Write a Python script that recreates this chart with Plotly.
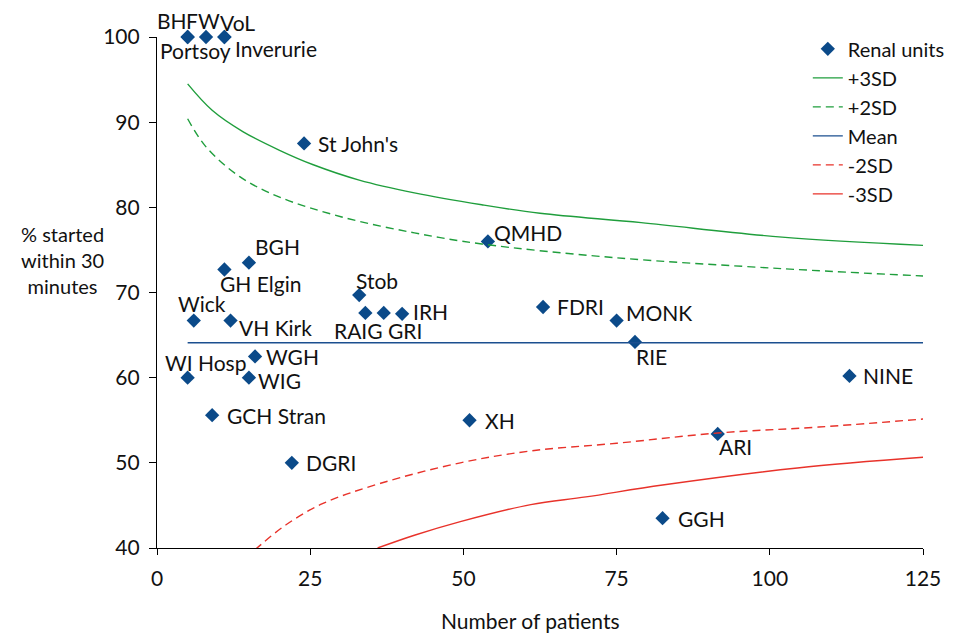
import plotly.graph_objects as go

# ---- data ----
units = ["BH", "Portsoy", "FW", "VoL", "Inverurie", "St John's", "QMHD", "BGH", "GH Elgin",
         "Stob", "RAIG", "GRI", "IRH", "Wick", "VH Kirk", "FDRI", "MONK", "RIE", "WGH",
         "WI Hosp", "WIG", "NINE", "GCH Stran", "XH", "DGRI", "ARI", "GGH"]
n_patients = [5, 5, 8, 11, 11, 24, 54, 15, 11,
              33, 34, 37, 40, 6, 12, 63, 75, 78, 16,
              5, 15, 113, 9, 51, 22, 91.5, 82.5]
pct_started = [100, 100, 100, 100, 100, 87.5, 76.0, 73.5, 72.7,
               69.7, 67.6, 67.6, 67.5, 66.7, 66.7, 68.3, 66.7, 64.2, 62.5,
               60.0, 60.0, 60.2, 55.6, 55.0, 50.0, 53.4, 43.5]

mean_x = [5, 126]
mean_pct = 64.1

plus3_x = [5, 9, 14, 20, 25.5, 33, 42, 53, 62.5, 79, 102, 126]
plus3_y = [94.5, 91.4, 88.9, 86.7, 85.0, 83.2, 81.7, 80.3, 79.3, 78.2, 76.5, 75.5]

plus2_x = [5, 8, 13.5, 20, 30, 42, 53, 74.5, 102, 126]
plus2_y = [90.4, 87.1, 83.6, 81.2, 78.9, 77.0, 75.7, 74.1, 72.8, 71.9]

minus2_x = [16, 21, 27, 36.5, 49.5, 61, 75, 91.5, 108, 126]
minus2_y = [39.8, 42.7, 45.2, 47.6, 50.0, 51.4, 52.3, 53.5, 54.2, 55.2]

minus3_x = [36, 42, 49.5, 61, 70, 82.5, 104.5, 126]
minus3_y = [40.0, 41.5, 43.1, 45.1, 46.0, 47.4, 49.4, 50.7]

x_ticks = [0, 25, 50, 75, 100, 125]
y_ticks = [40, 50, 60, 70, 80, 90, 100]

y_title = "% started<br>within 30<br>minutes"
x_title = "Number of patients"

# ---- style: label offsets in pixels (dx, dy), text anchored left/middle ----
label_offsets = {
    "BH": (-33, -17), "Portsoy": (-30, 13), "FW": (-22, -17), "VoL": (-6, -15),
    "Inverurie": (9, 11), "St John's": (12, 0), "QMHD": (4, -9), "BGH": (4, -16),
    "GH Elgin": (-6, 14), "Stob": (-5, -15), "RAIG": (-33, 18), "GRI": (2, 18),
    "IRH": (9, -2), "Wick": (-18, -17), "VH Kirk": (6, 7), "FDRI": (12, 0),
    "MONK": (7, -8), "RIE": (-1, 15), "WGH": (9, 0), "WI Hosp": (-25, -15),
    "WIG": (7, 3), "NINE": (12, 0), "GCH Stran": (13, 0), "XH": (13, 0),
    "DGRI": (12, 0), "ARI": (-1, 13), "GGH": (13, 0),
}

FONT = "Lato"
FS = 21
GREEN = "#1f9e3c"
RED = "#e8322a"
BLUE = "#1b4f8f"
MARK = "#0b4a89"
TXT = "#111111"

fig = go.Figure()

fig.add_trace(go.Scatter(
    x=n_patients, y=pct_started, mode="markers", name="Renal units",
    marker=dict(symbol="diamond", size=11, color=MARK), cliponaxis=False))
fig.add_trace(go.Scatter(x=plus3_x, y=plus3_y, mode="lines", name="+3SD",
                         line=dict(color=GREEN, width=1.4, shape="spline")))
fig.add_trace(go.Scatter(x=plus2_x, y=plus2_y, mode="lines", name="+2SD",
                         line=dict(color=GREEN, width=1.4, dash="8px,5px", shape="spline")))
fig.add_trace(go.Scatter(x=mean_x, y=[mean_pct] * len(mean_x), mode="lines", name="Mean",
                         line=dict(color=BLUE, width=1.4)))
fig.add_trace(go.Scatter(x=minus2_x, y=minus2_y, mode="lines", name="-2SD",
                         line=dict(color=RED, width=1.4, dash="8px,5px", shape="spline")))
fig.add_trace(go.Scatter(x=minus3_x, y=minus3_y, mode="lines", name="-3SD",
                         line=dict(color=RED, width=1.4, shape="spline")))

annotations = []
for u, xv, yv in zip(units, n_patients, pct_started):
    dx, dy = label_offsets[u]
    annotations.append(dict(x=xv, y=yv, xref="x", yref="y", text=u, showarrow=False,
                            xanchor="left", yanchor="middle", xshift=dx, yshift=-dy,
                            font=dict(family=FONT, size=FS, color=TXT)))

annotations.append(dict(x=-0.124, y=0.563, xref="paper", yref="paper",
                        text=y_title, showarrow=False, align="center",
                        xanchor="center", yanchor="middle",
                        font=dict(family=FONT, size=20, color=TXT)))
annotations.append(dict(x=0.488, y=-0.141, xref="paper", yref="paper",
                        text=x_title, showarrow=False,
                        xanchor="center", yanchor="middle",
                        font=dict(family=FONT, size=FS, color=TXT)))

# page has an 8px body margin, so the figure is sized 8px smaller
fig.update_layout(
    width=949, height=625,
    margin=dict(l=149, r=34, t=29, b=85, autoexpand=False),
    paper_bgcolor="white", plot_bgcolor="white",
    font=dict(family=FONT, size=FS, color=TXT),
    showlegend=True,
    legend=dict(x=1.035, y=1.015, xanchor="right", yanchor="top",
                bgcolor="rgba(0,0,0,0)", font=dict(family=FONT, size=20, color=TXT),
                tracegroupgap=0),
    annotations=annotations,
    xaxis=dict(range=[0, 125], tickvals=x_ticks, showgrid=False, zeroline=False,
               showline=True, linecolor="black", linewidth=1.2,
               ticks="outside", ticklen=6, tickcolor="black", ticklabelstandoff=6,
               tickfont=dict(family=FONT, size=FS, color=TXT)),
    yaxis=dict(range=[40, 100], tickvals=y_ticks, showgrid=False, zeroline=False,
               showline=True, linecolor="black", linewidth=1.2,
               ticks="outside", ticklen=7, tickcolor="black", ticklabelstandoff=5,
               tickfont=dict(family=FONT, size=FS, color=TXT)),
)

fig.write_html("out.html")
